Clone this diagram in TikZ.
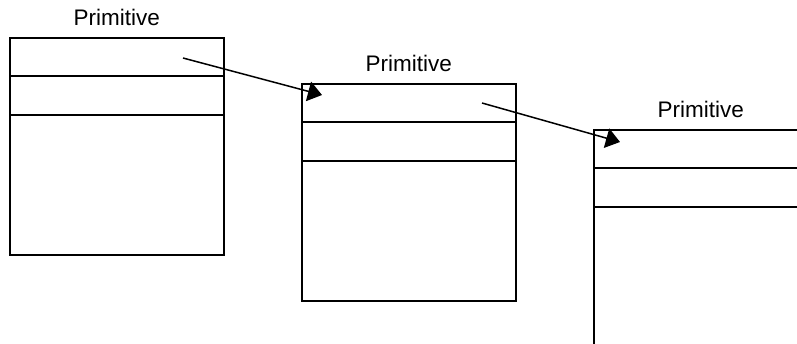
\documentclass[tikz,border=0pt]{standalone}
\usepackage{fontspec}
\setmainfont{Liberation Sans}
\usetikzlibrary{arrows.meta,positioning,calc}

\begin{document}
\begin{tikzpicture}[x=1pt, y=-1pt,
  prim/.style={rectangle, draw, line width=1.5pt, minimum width=214pt, minimum height=217pt, inner sep=0pt, anchor=north west,
    label={[primlabel]above:Primitive}},
  primlabel/.style={inner sep=0pt, label distance=11pt, font=\fontsize{22.5}{27}\selectfont},
  divider/.style={line width=1.3pt},
  ptr/.style={-{Triangle[length=14pt, width=20pt]}, line width=1.5pt},
]
  \path[use as bounding box, clip] (0,0) rectangle (797,343);

  \node[prim] (box1) at (9,37) {};
  \node[prim] (box2) at (301,83) {};
  \node[prim] (box3) at (593,129) {};

  \foreach \b in {box1,box2,box3} {
    \draw[divider] ($(\b.north west)+(0,39)$) -- ($(\b.north east)+(0,39)$);
    \draw[divider] ($(\b.north west)+(0,78)$) -- ($(\b.north east)+(0,78)$);
  }

  % pointers between the headers
  \coordinate (src1) at (183,58);
  \coordinate (dst1) at (322,95);
  \coordinate (src2) at (482,103);
  \coordinate (dst2) at (620,142);
  \draw[ptr] (src1) -- (dst1);
  \draw[ptr] (src2) -- (dst2);
\end{tikzpicture}
\end{document}
